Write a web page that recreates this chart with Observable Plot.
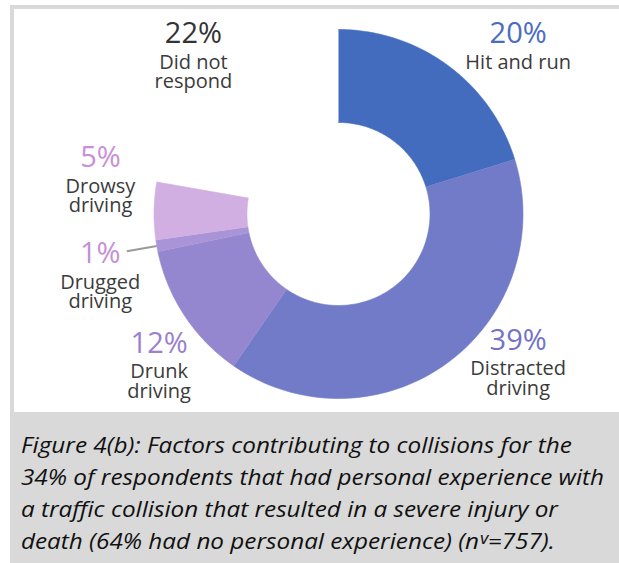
<!DOCTYPE html>
<html>
<head>
<meta charset="utf-8">
<script src="https://cdn.jsdelivr.net/npm/d3@7"></script>
<script src="https://cdn.jsdelivr.net/npm/@observablehq/plot@0.6"></script>
<style>
  html, body { margin: 0; padding: 0; background: #fff; width: 619px; height: 563px; overflow: hidden; }
  #frame { position: absolute; left: 10px; top: 5px; width: 609px; height: 558px; background: #d9d9d9; }
  #panel { position: absolute; left: 14px; top: 9px; width: 605px; height: 403px; background: #fff; }
  #chart { position: absolute; left: 0; top: 0; }
  #caption { position: absolute; left: 21px; top: 428px; font-family: "Open Sans", sans-serif; font-style: italic;
             font-size: 22px; line-height: 32px; color: #111; white-space: nowrap; }
  #caption span { display: block; transform-origin: 0 0; }
</style>
</head>
<body>
<div id="frame"></div>
<div id="panel"></div>
<div id="chart"></div>
<div id="caption"></div>
<script>
// ---- data ----
const categories = ["Hit and run", "Distracted driving", "Drunk driving", "Drugged driving", "Drowsy driving", "Did not respond"];
const percents = [20, 39, 12, 1, 5, 22];
const labelTexts = ["Hit and run", "Distracted\ndriving", "Drunk\ndriving", "Drugged\ndriving", "Drowsy\ndriving", "Did not\nrespond"];
const sliceColors = ["#436cbe", "#727bc8", "#9587cf", "#a994d8", "#d2afe3", "#ffffff"];
const pctColors = ["#4a6cc1", "#7273c6", "#9a80d0", "#c58fd8", "#c98fd8", "#333333"];
const captionLines = [
  "Figure 4(b): Factors contributing to collisions for the",
  "34% of respondents that had personal experience with",
  "a traffic collision that resulted in a severe injury or",
  "death (64% had no personal experience) (n\u1D5B=757)."
];

// ---- layout (styles / nudges, px) ----
const unit = 184.5;           // outer radius in px
const innerR = 0.496;
const labelR = 1.35;
const labelNudge = [[32, 30], [32, -65], [28, 1], [7, 6], [11, -43], [15, 20]];

const arcs = d3.pie().sort(null).value(d => d)(percents);

// slice polygons computed from pie angles
const pts = [];
arcs.forEach((a, i) => {
  if (categories[i] === "Did not respond") return;
  const n = 80;
  for (let k = 0; k <= n; k++) {
    const t = a.startAngle + (a.endAngle - a.startAngle) * k / n;
    pts.push({key: categories[i], color: sliceColors[i], x: Math.sin(t), y: Math.cos(t)});
  }
  for (let k = n; k >= 0; k--) {
    const t = a.startAngle + (a.endAngle - a.startAngle) * k / n;
    pts.push({key: categories[i], color: sliceColors[i], x: innerR * Math.sin(t), y: innerR * Math.cos(t)});
  }
});

const labels = arcs.map((a, i) => {
  const m = (a.startAngle + a.endAngle) / 2;
  return {
    text: percents[i] + "%\n" + labelTexts[i],
    color: pctColors[i],
    x: labelR * Math.sin(m) + labelNudge[i][0] / unit,
    y: labelR * Math.cos(m) - labelNudge[i][1] / unit
  };
});

// leader line for the small slice
const drug = arcs[categories.indexOf("Drugged driving")];
const dm = (drug.startAngle + drug.endAngle) / 2;
const leader = [{x1: 1.0 * Math.sin(dm), y1: 1.0 * Math.cos(dm), x2: 1.165 * Math.sin(dm), y2: 1.165 * Math.cos(dm)}];

const cx = 338, cy = 213.5;
const chart = Plot.plot({
  width: 619,
  height: 412,
  margin: 0,
  style: {background: "transparent", fontFamily: "'Open Sans', sans-serif"},
  x: {domain: [-1, 1], range: [cx - unit, cx + unit], axis: null},
  y: {domain: [-1, 1], range: [cy + unit, cy - unit], axis: null},
  color: {type: "identity"},
  marks: [
    Plot.line(pts, {x: "x", y: "y", z: "key", fill: "color", stroke: "color", strokeWidth: 0.6, curve: "linear"}),
    Plot.link(leader, {x1: "x1", y1: "y1", x2: "x2", y2: "y2", stroke: "#9a9a9a", strokeWidth: 2}),
    Plot.text(labels, {x: "x", y: "y", text: "text", fill: "color", fontSize: 20, fontWeight: 500, lineAnchor: "bottom", textAnchor: "middle", className: "slice-label"})
  ]
});
document.getElementById("chart").appendChild(chart);

// style the percentage line and the label lines inside each label (baseline of % line at the anchor)
const lineY = [0, 25.5, 45];
chart.querySelectorAll(".slice-label text").forEach(t => {
  t.removeAttribute("y");
  t.removeAttribute("dy");
  t.querySelectorAll("tspan").forEach((s, k) => {
    s.removeAttribute("dy");
    s.setAttribute("x", "0");
    s.setAttribute("y", String(lineY[k]));
    if (k === 0) {
      s.setAttribute("font-size", "29");
    } else {
      s.setAttribute("fill", "#3b3b3b");
    }
  });
});

// caption
const cap = document.getElementById("caption");
captionLines.forEach(t => { const s = document.createElement("span"); s.textContent = t; cap.appendChild(s); });
const spans = cap.querySelectorAll("span");
const w = spans[1].getBoundingClientRect().width;
const sc = 583 / w;
spans.forEach(s => s.style.transform = `scaleX(${sc})`);
</script>
</body>
</html>
